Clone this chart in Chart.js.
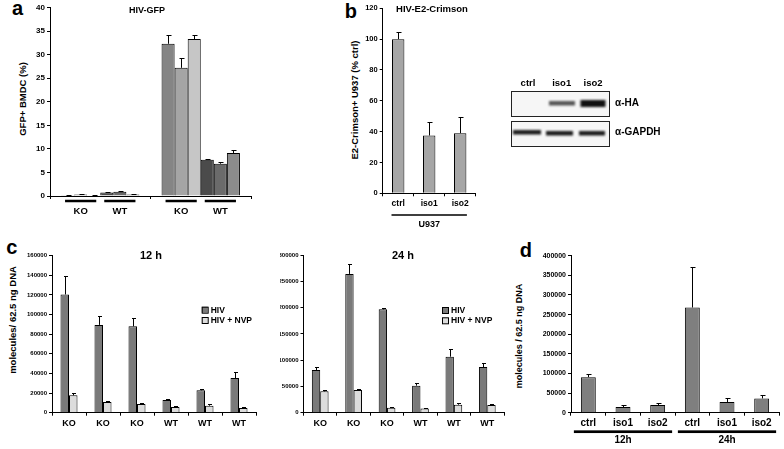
<!DOCTYPE html>
<html>
<head>
<meta charset="utf-8">
<script src="https://cdn.jsdelivr.net/npm/chart.js@4"></script>
<style>
  body { margin: 0; background: #fff; width: 784px; height: 449px; position: relative; overflow: hidden; }
  canvas { position: absolute; }
  .txt { position: absolute; font-family: "Liberation Sans", Arial, sans-serif; font-weight: bold; line-height: 1; white-space: nowrap; color: #000; }
</style>
</head>
<body>
<canvas id="chartA"></canvas>
<canvas id="chartB"></canvas>
<canvas id="blot"></canvas>
<canvas id="chartC12"></canvas>
<canvas id="chartC24"></canvas>
<canvas id="chartD"></canvas>
<script>
// ---- data ----
// a: HIV-GFP, GFP+ BMDC (%), two clusters of 3 KO + 3 WT mice
const aClusters = ['', ''];
const aGroupLabels = ['KO', 'WT'];
const aKO1 = [0.15, 32.3], aKO1Top = [0.2, 34.1];
const aKO2 = [0.3, 27.2], aKO2Top = [0.4, 29.2];
const aKO3 = [0.1, 33.3], aKO3Top = [0.12, 34.1];
const aWT1 = [0.75, 7.7], aWT1Top = [0.85, 7.9];
const aWT2 = [0.9, 6.85], aWT2Top = [1.0, 7.3];
const aWT3 = [0.3, 9.1], aWT3Top = [0.35, 9.8];

// b: HIV-E2-Crimson, % ctrl
const bCats = ['ctrl', 'iso1', 'iso2'];
const bValues = [100, 37.5, 39];
const bTop = [104.4, 46.5, 49.3];

// c: molecules / 62.5 ng DNA
const cCats = ['KO', 'KO', 'KO', 'WT', 'WT', 'WT'];
const c12HIV = [120500, 89500, 88000, 12900, 22800, 35300];
const c12HIVTop = [139300, 98800, 96100, 13900, 23800, 41800];
const c12NVP = [17700, 10900, 8800, 5800, 7100, 4800];
const c12NVPTop = [20000, 11900, 10200, 7100, 9200, 5800];
const c24HIV = [81000, 264000, 196600, 51400, 106500, 86900];
const c24HIVTop = [86200, 282000, 199000, 56400, 120500, 94500];
const c24NVP = [40600, 43100, 9500, 8200, 15200, 14600];
const c24NVPTop = [43100, 45000, 10800, 8500, 19000, 17100];

// d: molecules / 62.5 ng DNA
const dCats = ['ctrl', 'iso1', 'iso2', 'ctrl', 'iso1', 'iso2'];
const dValues = [90500, 14400, 19500, 268000, 27000, 36400];
const dTop = [98900, 18600, 25400, 370000, 37200, 44800];
const dGroupLabels = ['12h', '24h'];

const FONT = '"Liberation Sans", Arial, sans-serif';
Chart.defaults.font.family = FONT;
Chart.defaults.font.weight = 'bold';
Chart.defaults.color = '#000';
Chart.defaults.animation = false;
Chart.defaults.plugins.legend.display = false;
Chart.defaults.plugins.tooltip.enabled = false;

// upward error bars from value to errorTop
const errorBars = {
  id: 'errorBars',
  afterDatasetsDraw(chart, args, opts) {
    const ctx = chart.ctx, y = chart.scales.y;
    const cap = opts.cap || 2;
    ctx.save();
    ctx.strokeStyle = '#000';
    ctx.lineWidth = 1;
    chart.data.datasets.forEach((ds, i) => {
      if (!ds.errorTop) return;
      chart.getDatasetMeta(i).data.forEach((bar, j) => {
        const top = ds.errorTop[j];
        if (top == null || top <= ds.data[j]) return;
        const x = Math.round(bar.x) + 0.5;
        const y0 = y.getPixelForValue(ds.data[j]);
        const y1 = Math.round(y.getPixelForValue(top)) + 0.5;
        ctx.beginPath();
        ctx.moveTo(x, y0); ctx.lineTo(x, y1);
        ctx.moveTo(x - cap, y1); ctx.lineTo(x + cap + 1, y1);
        ctx.stroke();
      });
    });
    ctx.restore();
  }
};

// underline + label under a run of bars
const groupLines = {
  id: 'groupLines',
  afterDraw(chart, args, opts) {
    if (!opts.groups) return;
    const ctx = chart.ctx;
    ctx.save();
    ctx.fillStyle = '#000';
    ctx.font = 'bold ' + opts.fontSize + 'px ' + FONT;
    ctx.textAlign = 'center';
    ctx.textBaseline = 'middle';
    opts.groups.forEach(g => {
      const a = chart.getDatasetMeta(g.from[0]).data[g.from[1]];
      const b = chart.getDatasetMeta(g.to[0]).data[g.to[1]];
      const x0 = a.x - a.width / 2 - opts.pad;
      const x1 = b.x + b.width / 2 + opts.pad;
      const yy = chart.chartArea.bottom + opts.lineOffset;
      ctx.fillRect(x0, yy - opts.lineWidth / 2, x1 - x0, opts.lineWidth);
      ctx.fillText(g.label, (x0 + x1) / 2, yy + opts.textOffset);
    });
    ctx.restore();
  }
};

// boxed legend at a fixed spot
const boxLegend = {
  id: 'boxLegend',
  afterDraw(chart, args, opts) {
    if (opts.x == null) return;
    const ctx = chart.ctx;
    ctx.save();
    ctx.font = 'bold ' + opts.fontSize + 'px ' + FONT;
    ctx.textBaseline = 'middle';
    chart.data.datasets.forEach((ds, i) => {
      const y = opts.y + i * opts.gap;
      ctx.fillStyle = ds.backgroundColor;
      ctx.fillRect(opts.x, y, 6, 6);
      ctx.strokeStyle = '#000';
      ctx.lineWidth = 1;
      ctx.strokeRect(opts.x + 0.5, y + 0.5, 6, 6);
      ctx.fillStyle = '#000';
      ctx.fillText(ds.label, opts.x + 9, y + 3.5);
    });
    ctx.restore();
  }
};

Chart.register(errorBars, groupLines, boxLegend);

// place canvas so that its plot area lands on [L, T, R, B]
function place(id, box, area) {
  const cv = document.getElementById(id);
  cv.width = box[2]; cv.height = box[3];
  cv.style.left = box[0] + 'px'; cv.style.top = box[1] + 'px';
  return {
    ctx: cv.getContext('2d'),
    padding: { left: 0, top: area[1] - box[1], right: box[0] + box[2] - area[2], bottom: 0 },
    yWidth: area[0] - box[0],
    xHeight: box[1] + box[3] - area[3]
  };
}

function scales(p, yMax, yStep, yFont, xFont, showX) {
  return {
    x: {
      grid: { display: true, drawOnChartArea: false, tickLength: 3, color: '#000', offset: true },
      border: { color: '#000', width: 1 },
      ticks: { display: showX, font: { size: xFont, weight: 'bold' }, color: '#000', padding: 2, maxRotation: 0, autoSkip: false },
      afterFit: s => { s.height = p.xHeight; }
    },
    y: {
      min: 0, max: yMax,
      grid: { drawOnChartArea: false, tickLength: 3, color: '#000' },
      border: { color: '#000', width: 1 },
      ticks: { stepSize: yStep, font: { size: yFont, weight: 'bold' }, color: '#000', padding: 2, callback: v => String(v) },
      afterFit: s => { s.width = p.yWidth; }
    }
  };
}

function bars(label, data, top, color) {
  return { label: label, data: data, errorTop: top, backgroundColor: color, borderColor: '#000', borderWidth: 1 };
}

// ---- a ----
const pA = place('chartA', [30, 0, 226, 222], [50, 7.5, 251, 196]);
new Chart(pA.ctx, {
  type: 'bar',
  data: {
    labels: aClusters,
    datasets: [
      bars('KO1', aKO1, aKO1Top, '#858585'),
      bars('KO2', aKO2, aKO2Top, '#a5a5a5'),
      bars('KO3', aKO3, aKO3Top, '#c6c6c6'),
      bars('WT1', aWT1, aWT1Top, '#4b4b4b'),
      bars('WT2', aWT2, aWT2Top, '#6b6b6b'),
      bars('WT3', aWT3, aWT3Top, '#8c8c8c')
    ]
  },
  options: {
    responsive: false,
    layout: { padding: pA.padding },
    datasets: { bar: { categoryPercentage: 0.78, barPercentage: 1 } },
    scales: scales(pA, 40, 5, 8, 9, false),
    plugins: {
      errorBars: { cap: 2 },
      groupLines: {
        fontSize: 9.5, pad: -4, lineWidth: 2.5, lineOffset: 5, textOffset: 10,
        groups: [
          { label: aGroupLabels[0], from: [0, 0], to: [2, 0] },
          { label: aGroupLabels[1], from: [3, 0], to: [5, 0] },
          { label: aGroupLabels[0], from: [0, 1], to: [2, 1] },
          { label: aGroupLabels[1], from: [3, 1], to: [5, 1] }
        ]
      }
    }
  }
});

// ---- b ----
const pB = place('chartB', [362, 0, 120, 235], [382.7, 8.3, 475.7, 193.3]);
new Chart(pB.ctx, {
  type: 'bar',
  data: { labels: bCats, datasets: [bars('HIV-E2-Crimson', bValues, bTop, '#a6a6a6')] },
  options: {
    responsive: false,
    layout: { padding: pB.padding },
    datasets: { bar: { categoryPercentage: 1, barPercentage: 0.4 } },
    scales: scales(pB, 120, 20, 7.5, 8.5, true),
    plugins: {
      errorBars: { cap: 2 },
      groupLines: {
        fontSize: 9, pad: 0.5, lineWidth: 1.5, lineOffset: 21.7, textOffset: 10,
        groups: [{ label: 'U937', from: [0, 0], to: [0, 2] }]
      }
    }
  }
});

// ---- c 12 h ----
const pC12 = place('chartC12', [26, 240, 236, 195], [52, 255.7, 256, 412.7]);
new Chart(pC12.ctx, {
  type: 'bar',
  data: {
    labels: cCats,
    datasets: [bars('HIV', c12HIV, c12HIVTop, '#7a7a7a'), bars('HIV + NVP', c12NVP, c12NVPTop, '#dcdcdc')]
  },
  options: {
    responsive: false,
    layout: { padding: pC12.padding },
    datasets: { bar: { categoryPercentage: 0.5, barPercentage: 1 } },
    scales: scales(pC12, 160000, 20000, 6, 9, true),
    plugins: {
      errorBars: { cap: 1.5 },
      boxLegend: { x: 175.7, y: 66.7, gap: 10.3, fontSize: 8.5 }
    }
  }
});

// ---- c 24 h ----
const pC24 = place('chartC24', [280, 240, 230, 195], [303.5, 255, 504, 412.7]);
new Chart(pC24.ctx, {
  type: 'bar',
  data: {
    labels: cCats,
    datasets: [bars('HIV', c24HIV, c24HIVTop, '#7a7a7a'), bars('HIV + NVP', c24NVP, c24NVPTop, '#dcdcdc')]
  },
  options: {
    responsive: false,
    layout: { padding: pC24.padding },
    datasets: { bar: { categoryPercentage: 0.5, barPercentage: 1 } },
    scales: scales(pC24, 300000, 50000, 6, 9, true),
    plugins: {
      errorBars: { cap: 1.5 },
      boxLegend: { x: 162, y: 67, gap: 10.3, fontSize: 8.5 }
    }
  }
});

// ---- d ----
const pD = place('chartD', [540, 240, 244, 209], [571, 255.7, 779, 412.7]);
new Chart(pD.ctx, {
  type: 'bar',
  data: { labels: dCats, datasets: [bars('HIV', dValues, dTop, '#7f7f7f')] },
  options: {
    responsive: false,
    layout: { padding: pD.padding },
    datasets: { bar: { categoryPercentage: 1, barPercentage: 0.43 } },
    scales: scales(pD, 400000, 50000, 7, 10, true),
    plugins: {
      errorBars: { cap: 2 },
      groupLines: {
        fontSize: 10, pad: 7, lineWidth: 2.7, lineOffset: 19, textOffset: 9,
        groups: [
          { label: dGroupLabels[0], from: [0, 0], to: [0, 2] },
          { label: dGroupLabels[1], from: [0, 3], to: [0, 5] }
        ]
      }
    }
  }
});

// ---- western blot picture (not a chart) ----
(function () {
  const cv = document.getElementById('blot');
  cv.width = 120; cv.height = 85;
  cv.style.left = '500px'; cv.style.top = '70px';
  const g = cv.getContext('2d');
  g.fillStyle = '#f6f6f6';
  g.fillRect(11, 21, 98, 25);
  g.fillRect(11, 50.7, 98, 25);
  g.strokeStyle = '#222';
  g.lineWidth = 1;
  g.strokeRect(11.5, 21.5, 98, 25);
  g.strokeRect(11.5, 51.5, 98, 25);
  g.filter = 'blur(0.9px)';
  g.fillStyle = '#555';
  g.fillRect(49, 31, 26, 4.5);
  g.fillStyle = '#111';
  g.fillRect(80.5, 30, 25, 7);
  g.fillStyle = '#1c1c1c';
  g.fillRect(13, 60, 28, 4.5);
  g.fillRect(46, 61, 27, 4.5);
  g.fillRect(79, 61, 26, 4.5);
})();

// ---- text ----
function txt(s, x, y, size, mode) {
  const d = document.createElement('div');
  d.className = 'txt';
  d.textContent = s;
  d.style.fontSize = size + 'px';
  d.style.left = x + 'px';
  d.style.top = y + 'px';
  if (mode === 'rot') d.style.transform = 'translate(-50%,-50%) rotate(-90deg)';
  else if (mode === 'left') d.style.transform = 'translate(0,-50%)';
  else d.style.transform = 'translate(-50%,-50%)';
  document.body.appendChild(d);
}
txt('a', 17.5, 8, 20);
txt('b', 350.8, 11, 20);
txt('c', 11.7, 246.6, 20);
txt('d', 525.8, 250, 20);
txt('HIV-GFP', 147, 10, 9);
txt('HIV-E2-Crimson', 432, 9, 9.5);
txt('12 h', 151, 255, 11);
txt('24 h', 403, 255, 11);
txt('GFP+ BMDC (%)', 23, 99, 9.5, 'rot');
txt('E2-Crimson+ U937 (% ctrl)', 355, 100, 9.5, 'rot');
txt('molecules/ 62.5 ng DNA', 13.3, 320, 9.5, 'rot');
txt('molecules / 62.5 ng DNA', 519, 336, 9, 'rot');
txt('ctrl', 528, 83, 9.5);
txt('iso1', 561.7, 83, 9.5);
txt('iso2', 593, 83, 9.5);
txt('α-HA', 615, 103, 10, 'left');
txt('α-GAPDH', 615, 131.7, 10, 'left');
</script>
</body>
</html>
